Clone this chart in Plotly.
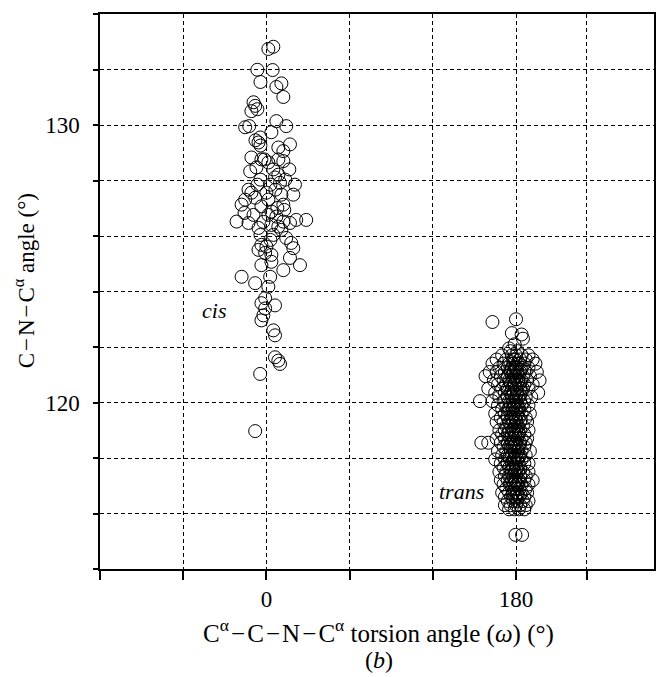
import plotly.graph_objects as go

# ---- data ----
cis_omega = [1.4, 5.0, -6.5, 4.5, -4.3, 10.8, 7.2, 12.2, -9.3, -8.1, -6.5, -10.8, -15.3, -12.4, 7.2, 14.3, 3.6, -4.5,
             -5.7, -7.9, -4.3, 17.0, 8.6, 12.2, -10.8, -3.6, 1.4, 12.2, -11.7, -7.2, 6.2, 9.8, 20.6, 19.4, -10.8, -15.3,
             -17.9, -8.1, 1.4, -3.6, 3.6, 7.2, 12.2, -21.5, -12.9, 28.7, 21.5, 17.0, -5.7, 3.6, 8.6, -3.6, 0.0, 17.9,
             5.0, 8.6, 2.9, 6.5, 10.8, 0.0, -4.3, 12.2, 7.9, 1.4, 10.8, 14.3, 5.0, -2.2, -9.3, -6.5, -12.9, 13.6, 16.5,
             8.6, 12.9, -15.8, -4.3, 2.9, -1.4,
             -5.7, -0.9, 3.6, 19.4, 17.0, 24.2, -3.6, 3.6, 12.2, -17.9, 2.7, -8.1, 1.4, -0.9, -3.6, 6.2, -0.9, -3.6,
             -2.2, 5.0, 6.2, 6.2, 9.8, 8.6, -4.5, -8.1]
cis_angle = [132.74, 132.82, 131.99, 131.98, 131.55, 131.50, 131.37, 131.01, 130.82, 130.69, 130.57, 130.50, 129.92,
             129.96, 130.14, 129.96, 129.74, 129.55,
             129.37, 129.45, 129.26, 129.30, 129.19, 129.06, 128.83, 128.76, 128.65, 128.70, 128.33, 128.47, 128.11,
             127.92, 127.85, 127.49, 127.56, 127.31, 127.13, 127.38, 127.31, 127.07, 126.88, 126.70, 126.52, 126.52,
             126.47, 126.58, 126.58, 126.47, 126.29, 126.40, 126.34, 125.68, 125.62, 125.75,
             128.40, 128.21, 127.85, 127.67, 127.49, 127.56, 128.03, 127.13, 127.01, 126.76, 126.22, 125.93, 126.04,
             126.51, 126.76, 127.85, 127.67, 128.03, 128.40, 128.76, 126.94, 126.83, 126.04, 125.86, 128.76,
             125.50, 125.39, 125.32, 125.56, 125.21, 124.95, 124.95, 125.07, 124.77, 124.53, 124.53, 124.30, 124.17,
             123.76, 123.58, 123.50, 123.39, 122.96, 123.14, 122.60, 122.42, 121.63, 121.39, 121.51, 121.03, 118.97]

# trans cluster: (C-N-CA angle, [omega values read along that level])
trans_rows = [
    (122.9, [163]), (123.0, [180]), (122.5, [177]), (122.45, [184]), (122.3, [185]), (122.1, [179]),
    (121.95, [175]), (121.85, [176, 181]),
    (121.7, [170, 177, 180, 184, 189]),
    (121.55, [166, 173, 178, 179.5, 183, 187, 192]),
    (121.4, [163, 171, 175, 178, 181, 182.5, 186, 194]),
    (121.25, [168, 174, 177, 179, 180.5, 184, 189]),
    (121.1, [161, 166, 172, 176, 178.5, 181, 183, 187, 195]),
    (120.95, [158, 169, 174, 177, 179.5, 182, 185, 190]),
    (120.8, [164, 171, 175, 178, 180, 181.5, 184, 188, 197]),
    (120.65, [167, 173, 176.5, 179, 182, 186, 192]),
    (120.5, [160, 170, 174, 177, 180, 183, 185, 189]),
    (120.35, [165, 172, 176, 178.5, 181, 184, 196]),
    (120.2, [168, 174, 177, 179.5, 182, 187, 191]),
    (120.05, [154, 163, 171, 175, 178, 180, 183, 186]),
    (119.9, [167, 173, 176, 179, 181, 184, 189]),
    (119.75, [170, 174.5, 177.5, 180, 182.5, 186]),
    (119.6, [165, 172, 176, 178.5, 181, 184, 190]),
    (119.45, [169, 174, 177, 179.5, 182, 187]),
    (119.3, [166, 171, 175, 178, 180.5, 183, 188]),
    (119.15, [173, 176.5, 179, 181.5, 185]),
    (119.0, [168, 172, 175, 178, 180, 183, 189]),
    (118.85, [170, 174, 177, 179.5, 182, 186]),
    (118.7, [166, 172, 176, 178.5, 181, 184, 188]),
    (118.55, [155, 160, 169, 174, 177, 180, 183, 187]),
    (118.4, [171, 175, 178, 180.5, 182, 186]),
    (118.25, [167, 173, 176.5, 179, 181.5, 184, 190]),
    (118.1, [170, 174, 177, 180, 183, 187]),
    (117.95, [165, 172, 175.5, 178.5, 181, 184]),
    (117.8, [169, 174, 177, 179.5, 182, 186, 189]),
    (117.65, [171, 175, 178, 180.5, 183]),
    (117.5, [168, 173, 176.5, 179, 181.5, 185, 189]),
    (117.35, [172, 175, 178, 180, 183, 187]),
    (117.2, [169, 174, 177, 179.5, 182, 186, 192]),
    (117.05, [171, 175.5, 178.5, 181, 184, 189]),
    (116.9, [173, 177, 180, 182.5, 187]),
    (116.75, [170, 175, 178, 181, 184, 188]),
    (116.6, [172, 176.5, 179.5, 182, 186]),
    (116.45, [174, 178, 181, 185, 189]),
    (116.3, [172, 176, 180, 183, 187]),
    (116.15, [175, 179, 182, 186]),
    (115.23, [179.6, 184.4]),
    # dark core
    (121.18, [176, 180, 183.5]), (120.72, [175.5, 179, 183]), (120.28, [177, 180.5, 183]),
    (119.82, [175, 178, 181.5]), (119.38, [176.5, 180, 183.5]), (118.92, [175, 178.5, 182]),
    (118.48, [176, 179, 182.5]), (118.02, [175.5, 179, 182]), (117.58, [177, 180, 183]),
    (117.12, [176, 179.5, 182]), (116.68, [177.5, 180.5, 183]),
]
trans_omega = [x for y, xs in trans_rows for x in xs]
trans_angle = [y for y, xs in trans_rows for x in xs]

x_ticks = [-120, -60, 0, 60, 120, 180, 231]
x_labels = ["", "", "0", "", "", "180", ""]
y_ticks = [114, 116, 118, 120, 122, 124, 126, 128, 130, 132, 134]
y_labels = ["", "", "", "120", "", "", "", "", "130", "", ""]

FONT = "Liberation Serif, Times New Roman, serif"
HS = "\u200a"
MINUS = HS + "\u2212" + HS

fig = go.Figure()
marker = dict(symbol="circle-open", size=13, color="black", line=dict(width=1, color="black"))
fig.add_trace(go.Scatter(x=cis_omega, y=cis_angle, mode="markers", marker=marker, name="cis"))
fig.add_trace(go.Scatter(x=trans_omega, y=trans_angle, mode="markers", marker=marker, name="trans"))

fig.update_layout(
    width=657, height=677,
    margin=dict(l=100, r=1, t=14, b=108),
    paper_bgcolor="white", plot_bgcolor="white",
    showlegend=False,
    font=dict(family=FONT, size=23, color="black"),
)
fig.update_xaxes(
    range=[-120, 279.5], tickvals=x_ticks, ticktext=x_labels,
    showgrid=True, gridcolor="black", gridwidth=1, griddash="4px,3px",
    showline=True, linecolor="black", linewidth=1.5, mirror=True,
    ticks="outside", ticklen=9, tickcolor="black", tickwidth=1.5,
    zeroline=False, ticklabelstandoff=0, tickfont=dict(size=23),
)
fig.update_yaxes(
    range=[114, 134], tickvals=y_ticks, ticktext=y_labels,
    showgrid=True, gridcolor="black", gridwidth=1, griddash="4px,3px",
    showline=True, linecolor="black", linewidth=1.5, mirror=True,
    ticks="outside", ticklen=5, tickcolor="black", tickwidth=1.5,
    zeroline=False, ticklabelstandoff=9, tickfont=dict(size=23),
)

fig.add_annotation(x=-37.7, y=123.32, text="<i>cis</i>", showarrow=False, font=dict(size=22))
fig.add_annotation(x=140.6, y=116.8, text="<i>trans</i>", showarrow=False, font=dict(size=22))

fig.add_annotation(xref="paper", yref="paper", x=-0.135, y=0.519, xanchor="center", yanchor="middle",
                   textangle=-90,
                   text="C" + MINUS + "N" + MINUS + "C<sup>\u03b1</sup> angle (\u00b0)",
                   showarrow=False, font=dict(size=23))
fig.add_annotation(xref="paper", yref="paper", x=0.503, y=-0.1135, xanchor="center", yanchor="middle",
                   text="C<sup>\u03b1</sup>" + MINUS + "C" + MINUS + "N" + MINUS
                        + "C<sup>\u03b1</sup> torsion angle (<i>\u03c9</i>) (\u00b0)",
                   showarrow=False, font=dict(size=25))
fig.add_annotation(xref="paper", yref="paper", x=0.503, y=-0.164, xanchor="center", yanchor="middle",
                   text="(<i>b</i>)", showarrow=False, font=dict(size=24))

fig.write_html("out.html", config={"displayModeBar": False},
               post_script="document.body.style.margin='0px';")
